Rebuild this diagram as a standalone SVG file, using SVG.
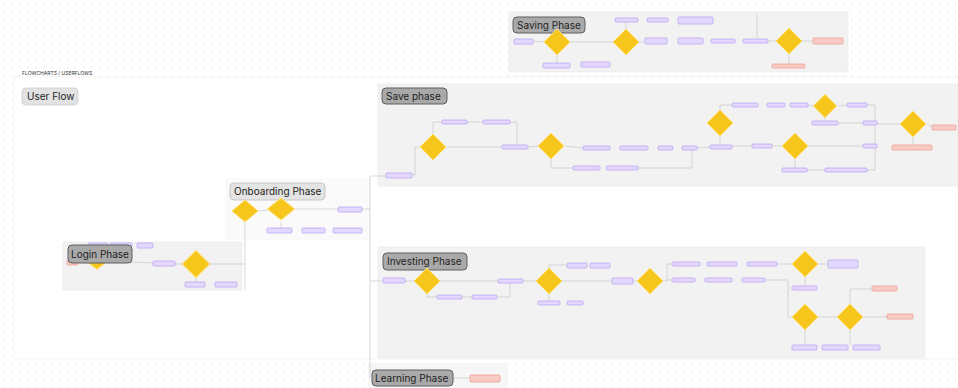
<svg xmlns="http://www.w3.org/2000/svg" width="958" height="388" viewBox="0 0 958 388">
<style>
.b{fill:#e3d8fd;stroke:#bca6f2;stroke-width:0.8}
.r{fill:#f9cbc4;stroke:#ec9f94;stroke-width:0.8}
.d{fill:#f6c61c;stroke:#ffe27a;stroke-width:1}
.ph{fill:#a9a9a9;stroke:#5e5e5e;stroke-width:1}
.pt{font-family:Inter,"Liberation Sans",sans-serif;font-size:10px;fill:#222}
.panel{fill:#f2f2f2;stroke:#e8e8e8;stroke-width:0.6}
.c line,.c polyline{stroke:#c8c8c8;stroke-width:0.7;fill:none}
</style>
<defs>
<pattern id="dots" width="8" height="8" patternUnits="userSpaceOnUse"><rect x="3" y="3" width="1.2" height="1.2" fill="#e6e6e6"/></pattern>
<polygon id="dia" points="0,-13 13,0 0,13 -13,0"/>
</defs>
<rect width="958" height="388" fill="#ffffff"/>
<rect width="958" height="388" fill="url(#dots)"/>
<rect x="14" y="77" width="944" height="282" fill="#ffffff" stroke="#f0f0f0" stroke-width="0.8"/>
<text x="22" y="75" font-family="Inter,'Liberation Sans',sans-serif" font-size="5" fill="#333">FLOWCHARTS / USERFLOWS</text>
<g id="user-flow">
<rect x="22" y="88" width="56" height="17" rx="4" fill="#e2e2e2" stroke="#cfcfcf" stroke-width="0.8"/>
<text class="pt" x="27" y="100" font-size="9">User Flow</text>
</g>

<!-- Panels -->
<rect class="panel" x="509" y="12" width="339" height="60"/>
<rect class="panel" x="378" y="84" width="580" height="102"/>
<rect x="225" y="178" width="145" height="62" fill="#fafafa"/>
<rect class="panel" x="63" y="242" width="179" height="48"/>
<rect class="panel" x="378" y="247" width="547" height="111"/>
<rect x="368" y="363" width="140" height="25" fill="#f6f6f6"/>

<!-- Connectors -->
<g class="c" id="connectors">
<line x1="533" y1="41" x2="545" y2="42"/>
<line x1="557" y1="55" x2="557" y2="63"/>
<line x1="570" y1="42" x2="613" y2="42"/>
<polyline points="626,29 626,20 638,20"/>
<line x1="639" y1="42" x2="645" y2="42"/>
<line x1="757" y1="38" x2="757" y2="14"/>
<line x1="768" y1="41" x2="776" y2="41"/>
<line x1="802" y1="41" x2="813" y2="41"/>
<line x1="789" y1="54" x2="789" y2="64"/>

<line x1="370" y1="176" x2="370" y2="378"/>
<line x1="362" y1="209" x2="370" y2="209"/>
<line x1="370" y1="176" x2="386" y2="176"/>
<line x1="370" y1="281" x2="383" y2="281"/>
<polyline points="412,175 415,175 415,147 420,147"/>
<polyline points="433,134 433,122 442,122"/>
<line x1="467" y1="122" x2="483" y2="122"/>
<polyline points="510,122 517,122 517,145"/>
<line x1="447" y1="147" x2="502" y2="147"/>
<line x1="528" y1="147" x2="538" y2="146"/>
<line x1="565" y1="146" x2="583" y2="148"/>
<polyline points="551,158 551,168 573,168"/>
<polyline points="638,168 692,168 692,150"/>
<line x1="697" y1="148" x2="710" y2="147"/>
<line x1="720" y1="136" x2="720" y2="145"/>
<polyline points="720,110 720,105 732,105"/>
<line x1="808" y1="105" x2="813" y2="106"/>
<line x1="838" y1="106" x2="847" y2="105"/>
<line x1="825" y1="118" x2="825" y2="122"/>
<line x1="838" y1="123" x2="863" y2="123"/>
<line x1="732" y1="146" x2="752" y2="146"/>
<line x1="772" y1="146" x2="782" y2="146"/>
<line x1="808" y1="146" x2="863" y2="146"/>
<line x1="795" y1="158" x2="795" y2="168"/>
<line x1="807" y1="170" x2="825" y2="170"/>
<polyline points="867,105 875,105 875,170 867,170"/>
<line x1="877" y1="124" x2="900" y2="124"/>
<line x1="927" y1="124" x2="932" y2="127"/>
<line x1="913" y1="137" x2="913" y2="145"/>

<line x1="258" y1="211" x2="268" y2="210"/>
<line x1="281" y1="222" x2="281" y2="228"/>
<line x1="295" y1="209" x2="338" y2="209"/>
<polyline points="210,264 242,264 245,264 245,222"/>
<line x1="245" y1="264" x2="245" y2="290"/>
<line x1="78" y1="262" x2="84" y2="260"/>
<line x1="111" y1="261" x2="153" y2="263"/>
<line x1="175" y1="264" x2="183" y2="264"/>
<line x1="196" y1="277" x2="196" y2="282"/>

<line x1="405" y1="281" x2="414" y2="281"/>
<line x1="440" y1="281" x2="498" y2="281"/>
<polyline points="427,294 427,297 437,297"/>
<line x1="462" y1="297" x2="472" y2="297"/>
<polyline points="497,297 510,297 510,283"/>
<line x1="523" y1="281" x2="537" y2="281"/>
<line x1="562" y1="281" x2="612" y2="281"/>
<polyline points="549,268 549,265 567,265"/>
<line x1="549" y1="294" x2="549" y2="301"/>
<line x1="633" y1="281" x2="638" y2="281"/>
<polyline points="663,281 667,281 667,264 672,264"/>
<line x1="667" y1="280" x2="672" y2="280"/>
<line x1="777" y1="264" x2="792" y2="264"/>
<line x1="818" y1="264" x2="828" y2="264"/>
<line x1="805" y1="277" x2="805" y2="286"/>
<polyline points="765,280 788,280 788,317 792,317"/>
<line x1="818" y1="317" x2="838" y2="317"/>
<line x1="863" y1="317" x2="887" y2="317"/>
<polyline points="850,304 850,289 872,289"/>
<line x1="805" y1="330" x2="805" y2="345"/>
<line x1="850" y1="330" x2="850" y2="345"/>
<line x1="453" y1="378" x2="470" y2="378"/>
</g>

<!-- Saving Phase -->
<g id="saving-phase">
<rect class="ph" x="513" y="17" width="72" height="16" rx="4"/>
<text class="pt" x="517" y="29">Saving Phase</text>
</g>
<g id="sv-n1"><rect class="b" x="514" y="39" width="19" height="5" rx="1"/></g>
<g id="sv-d1"><use href="#dia" class="d" transform="translate(557,42)"/></g>
<g id="sv-n2"><rect class="b" x="543" y="63" width="27" height="5" rx="1"/></g>
<g id="sv-n3"><rect class="b" x="581" y="62" width="29" height="5" rx="1"/></g>
<g id="sv-d2"><use href="#dia" class="d" transform="translate(626,42)"/></g>
<g id="sv-n4"><rect class="b" x="615" y="18" width="23" height="4" rx="1"/></g>
<g id="sv-n5"><rect class="b" x="647" y="18" width="21" height="4" rx="1"/></g>
<g id="sv-n6"><rect class="b" x="678" y="17" width="35" height="7" rx="1"/></g>
<g id="sv-n7"><rect class="b" x="645" y="38" width="22" height="6" rx="1"/></g>
<g id="sv-n8"><rect class="b" x="678" y="38" width="25" height="6" rx="1"/></g>
<g id="sv-n9"><rect class="b" x="711" y="39" width="24" height="4" rx="1"/></g>
<g id="sv-n10"><rect class="b" x="743" y="39" width="25" height="4" rx="1"/></g>
<g id="sv-d3"><use href="#dia" class="d" transform="translate(789,41)"/></g>
<g id="sv-e1"><rect class="r" x="813" y="38" width="30" height="6" rx="1"/></g>
<g id="sv-e2"><rect class="r" x="772" y="64" width="33" height="4" rx="1"/></g>

<!-- Save phase -->
<g id="save-phase">
<rect class="ph" x="382" y="88" width="65" height="16" rx="4"/>
<text class="pt" x="386" y="100">Save phase</text>
</g>
<g id="sp-n1"><rect class="b" x="386" y="173" width="26" height="5" rx="1"/></g>
<g id="sp-d1"><use href="#dia" class="d" transform="translate(433,147)"/></g>
<g id="sp-n2"><rect class="b" x="442" y="120" width="25" height="4" rx="1"/></g>
<g id="sp-n3"><rect class="b" x="483" y="120" width="27" height="4" rx="1"/></g>
<g id="sp-n4"><rect class="b" x="502" y="145" width="26" height="4" rx="1"/></g>
<g id="sp-d2"><use href="#dia" class="d" transform="translate(551,146)"/></g>
<g id="sp-n5"><rect class="b" x="583" y="146" width="27" height="4" rx="1"/></g>
<g id="sp-n6"><rect class="b" x="620" y="146" width="28" height="4" rx="1"/></g>
<g id="sp-n7"><rect class="b" x="658" y="146" width="15" height="4" rx="1"/></g>
<g id="sp-n8"><rect class="b" x="682" y="146" width="15" height="4" rx="1"/></g>
<g id="sp-n9"><rect class="b" x="573" y="166" width="27" height="4" rx="1"/></g>
<g id="sp-n10"><rect class="b" x="606" y="166" width="32" height="4" rx="1"/></g>
<g id="sp-d3"><use href="#dia" class="d" transform="translate(720,123)"/></g>
<g id="sp-n11"><rect class="b" x="710" y="145" width="22" height="4" rx="1"/></g>
<g id="sp-n12"><rect class="b" x="732" y="103" width="26" height="4" rx="1"/></g>
<g id="sp-n13"><rect class="b" x="767" y="103" width="18" height="4" rx="1"/></g>
<g id="sp-n14"><rect class="b" x="790" y="103" width="18" height="4" rx="1"/></g>
<g id="sp-d4"><use href="#dia" class="d" transform="translate(825,106) scale(0.9)"/></g>
<g id="sp-n15"><rect class="b" x="847" y="103" width="20" height="4" rx="1"/></g>
<g id="sp-n16"><rect class="b" x="812" y="121" width="26" height="4" rx="1"/></g>
<g id="sp-n17"><rect class="b" x="752" y="144" width="20" height="4" rx="1"/></g>
<g id="sp-d5"><use href="#dia" class="d" transform="translate(795,146)"/></g>
<g id="sp-n18"><rect class="b" x="782" y="168" width="25" height="4" rx="1"/></g>
<g id="sp-n19"><rect class="b" x="825" y="168" width="42" height="4" rx="1"/></g>
<g id="sp-n20"><rect class="b" x="863" y="121" width="14" height="4" rx="1"/></g>
<g id="sp-n21"><rect class="b" x="863" y="144" width="14" height="4" rx="1"/></g>
<g id="sp-d6"><use href="#dia" class="d" transform="translate(913,124)"/></g>
<g id="sp-e1"><rect class="r" x="932" y="125" width="24" height="5" rx="1"/></g>
<g id="sp-e2"><rect class="r" x="892" y="145" width="40" height="5" rx="1"/></g>

<!-- Onboarding Phase -->
<g id="onboarding-phase">
<rect x="230" y="183" width="95" height="17" rx="4" fill="#e4e4e4" stroke="#bdbdbd" stroke-width="0.8"/>
<text class="pt" x="234" y="195">Onboarding Phase</text>
</g>
<g id="ob-d1"><use href="#dia" class="d" transform="translate(245,211) scale(1,0.85)"/></g>
<g id="ob-d2"><use href="#dia" class="d" transform="translate(281,209) scale(1.05,0.85)"/></g>
<g id="ob-n1"><rect class="b" x="267" y="228" width="25" height="5" rx="1"/></g>
<g id="ob-n2"><rect class="b" x="302" y="228" width="23" height="5" rx="1"/></g>
<g id="ob-n3"><rect class="b" x="333" y="228" width="29" height="5" rx="1"/></g>
<g id="ob-n4"><rect class="b" x="338" y="207" width="24" height="5" rx="1"/></g>

<!-- Login Phase -->
<g id="lg-n1"><rect class="b" x="88" y="243" width="20" height="4" rx="1"/></g>
<g id="lg-n2"><rect class="b" x="110" y="243" width="22" height="4" rx="1"/></g>
<g id="lg-n3"><rect class="b" x="137" y="243" width="16" height="5" rx="1"/></g>
<g id="lg-e1"><rect class="r" x="67" y="260" width="11" height="5" rx="1"/></g>
<g id="lg-d1"><use href="#dia" class="d" transform="translate(97,259) scale(1.05,0.8)"/></g>
<g id="login-phase">
<rect class="ph" x="68" y="245" width="64" height="18" rx="4"/>
<text class="pt" x="71" y="258">Login Phase</text>
</g>
<g id="lg-n4"><rect class="b" x="153" y="261" width="22" height="5" rx="1"/></g>
<g id="lg-d2"><use href="#dia" class="d" transform="translate(196,264) scale(1.05)"/></g>
<g id="lg-n5"><rect class="b" x="185" y="282" width="20" height="5" rx="1"/></g>
<g id="lg-n6"><rect class="b" x="215" y="282" width="22" height="5" rx="1"/></g>

<!-- Investing Phase -->
<g id="investing-phase">
<rect class="ph" x="383" y="253" width="84" height="17" rx="4"/>
<text class="pt" x="387" y="265">Investing Phase</text>
</g>
<g id="iv-n1"><rect class="b" x="383" y="278" width="22" height="5" rx="1"/></g>
<g id="iv-d1"><use href="#dia" class="d" transform="translate(427,281)"/></g>
<g id="iv-n2"><rect class="b" x="437" y="295" width="25" height="4" rx="1"/></g>
<g id="iv-n3"><rect class="b" x="472" y="295" width="25" height="4" rx="1"/></g>
<g id="iv-n4"><rect class="b" x="498" y="279" width="25" height="4" rx="1"/></g>
<g id="iv-d2"><use href="#dia" class="d" transform="translate(549,281)"/></g>
<g id="iv-n5"><rect class="b" x="567" y="263" width="20" height="5" rx="1"/></g>
<g id="iv-n6"><rect class="b" x="590" y="263" width="20" height="5" rx="1"/></g>
<g id="iv-n7"><rect class="b" x="538" y="301" width="22" height="4" rx="1"/></g>
<g id="iv-n8"><rect class="b" x="567" y="301" width="16" height="4" rx="1"/></g>
<g id="iv-n9"><rect class="b" x="612" y="278" width="21" height="6" rx="1"/></g>
<g id="iv-d3"><use href="#dia" class="d" transform="translate(650,281)"/></g>
<g id="iv-n10"><rect class="b" x="672" y="262" width="28" height="4" rx="1"/></g>
<g id="iv-n11"><rect class="b" x="707" y="262" width="30" height="4" rx="1"/></g>
<g id="iv-n12"><rect class="b" x="747" y="262" width="30" height="4" rx="1"/></g>
<g id="iv-n13"><rect class="b" x="672" y="278" width="23" height="4" rx="1"/></g>
<g id="iv-n14"><rect class="b" x="705" y="278" width="27" height="4" rx="1"/></g>
<g id="iv-n15"><rect class="b" x="742" y="278" width="23" height="4" rx="1"/></g>
<g id="iv-d4"><use href="#dia" class="d" transform="translate(805,264)"/></g>
<g id="iv-n16"><rect class="b" x="828" y="260" width="30" height="8" rx="1"/></g>
<g id="iv-n17"><rect class="b" x="792" y="286" width="25" height="4" rx="1"/></g>
<g id="iv-e1"><rect class="r" x="872" y="286" width="25" height="5" rx="1"/></g>
<g id="iv-d5"><use href="#dia" class="d" transform="translate(805,317)"/></g>
<g id="iv-d6"><use href="#dia" class="d" transform="translate(850,317)"/></g>
<g id="iv-e2"><rect class="r" x="887" y="314" width="26" height="5" rx="1"/></g>
<g id="iv-n18"><rect class="b" x="792" y="345" width="25" height="5" rx="1"/></g>
<g id="iv-n19"><rect class="b" x="822" y="345" width="26" height="5" rx="1"/></g>
<g id="iv-n20"><rect class="b" x="853" y="345" width="27" height="5" rx="1"/></g>

<!-- Learning Phase -->
<g id="learning-phase">
<rect class="ph" x="372" y="370" width="81" height="16" rx="4"/>
<text class="pt" x="375" y="382">Learning Phase</text>
</g>
<g id="ln-e1"><rect class="r" x="470" y="375" width="30" height="7" rx="1"/></g>
</svg>
